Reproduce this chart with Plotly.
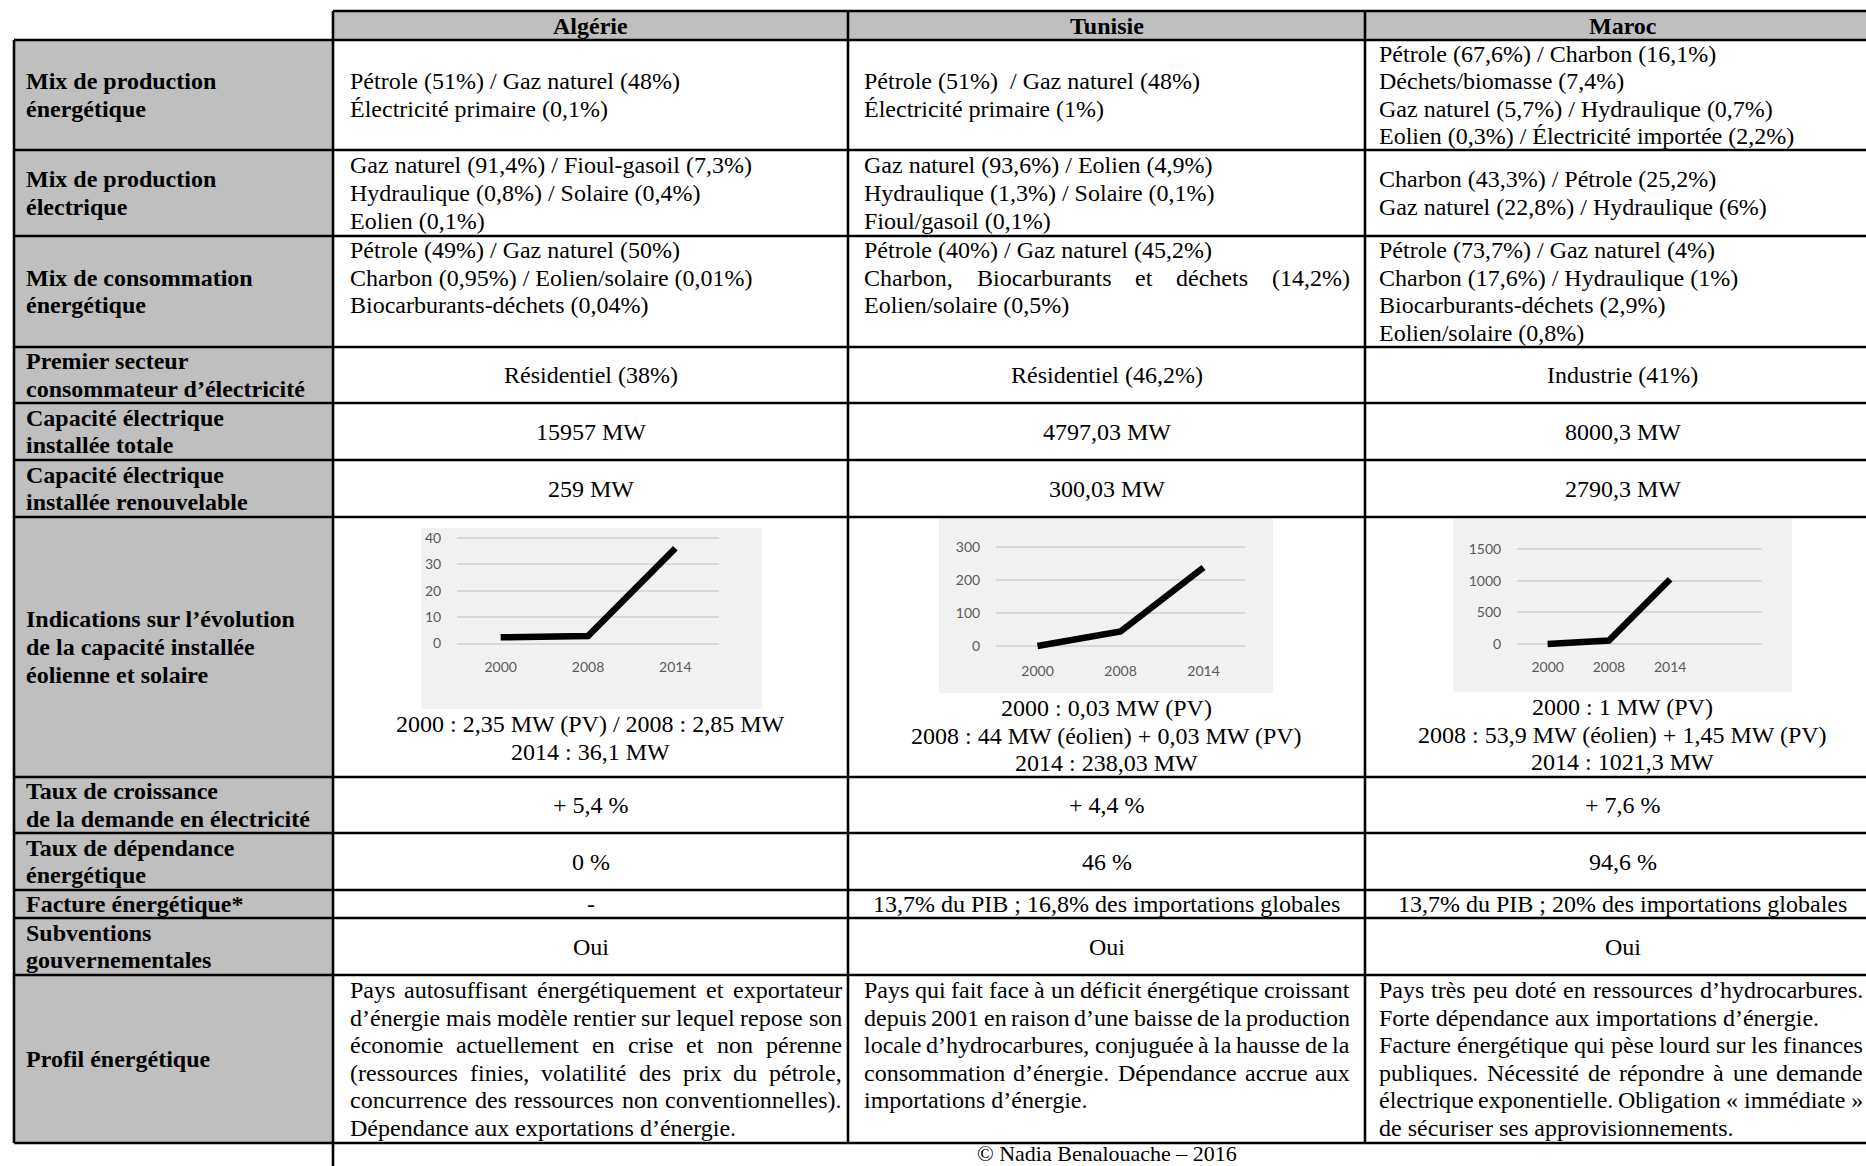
import plotly.graph_objects as go

# ------------------------------------------------------------------ data
countries = ["Algérie", "Tunisie", "Maroc"]

row_labels = [
    ["Mix de production", "énergétique"],
    ["Mix de production", "électrique"],
    ["Mix de consommation", "énergétique"],
    ["Premier secteur", "consommateur d’électricité"],
    ["Capacité électrique", "installée totale"],
    ["Capacité électrique", "installée renouvelable"],
    ["Indications sur l’évolution", "de la capacité installée", "éolienne et solaire"],
    ["Taux de croissance", "de la demande en électricité"],
    ["Taux de dépendance", "énergétique"],
    ["Facture énergétique*"],
    ["Subventions", "gouvernementales"],
    ["Profil énergétique"],
]

mix_prod_energetique = [
    ["Pétrole (51%) / Gaz naturel (48%)", "Électricité primaire (0,1%)"],
    ["Pétrole (51%)\u00a0 / Gaz naturel (48%)", "Électricité primaire (1%)"],
    ["Pétrole (67,6%) / Charbon (16,1%)", "Déchets/biomasse (7,4%)",
     "Gaz naturel (5,7%) / Hydraulique (0,7%)", "Eolien (0,3%) / Électricité importée (2,2%)"],
]
mix_prod_electrique = [
    ["Gaz naturel (91,4%) / Fioul-gasoil (7,3%)", "Hydraulique (0,8%) / Solaire (0,4%)", "Eolien (0,1%)"],
    ["Gaz naturel (93,6%) / Eolien (4,9%)", "Hydraulique (1,3%) / Solaire (0,1%)", "Fioul/gasoil (0,1%)"],
    ["Charbon (43,3%) / Pétrole (25,2%)", "Gaz naturel (22,8%) / Hydraulique (6%)"],
]
mix_consommation = [
    ["Pétrole (49%) / Gaz naturel (50%)", "Charbon (0,95%) / Eolien/solaire (0,01%)",
     "Biocarburants-déchets (0,04%)", ""],
    ["Pétrole (40%) / Gaz naturel (45,2%)", ("Charbon, Biocarburants et déchets (14,2%)", True),
     "Eolien/solaire (0,5%)", ""],
    ["Pétrole (73,7%) / Gaz naturel (4%)", "Charbon (17,6%) / Hydraulique (1%)",
     "Biocarburants-déchets (2,9%)", "Eolien/solaire (0,8%)"],
]
premier_secteur = ["Résidentiel (38%)", "Résidentiel (46,2%)", "Industrie (41%)"]
capacite_totale = ["15957 MW", "4797,03 MW", "8000,3 MW"]
capacite_renouvelable = ["259 MW", "300,03 MW", "2790,3 MW"]
croissance_demande = ["+ 5,4 %", "+ 4,4 %", "+ 7,6 %"]
dependance = ["0 %", "46 %", "94,6 %"]
facture = ["-", "13,7% du PIB ; 16,8% des importations globales",
           "13,7% du PIB ; 20% des importations globales"]
subventions = ["Oui", "Oui", "Oui"]
profil = [
    [("Pays autosuffisant énergétiquement et exportateur", True),
     ("d’énergie mais modèle rentier sur lequel repose son", True),
     ("économie actuellement en crise et non pérenne", True),
     ("(ressources finies, volatilité des prix du pétrole,", True),
     ("concurrence des ressources non conventionnelles).", True),
     "Dépendance aux exportations d’énergie."],
    [("Pays qui fait face à un déficit énergétique croissant", True),
     ("depuis 2001 en raison d’une baisse de la production", True),
     ("locale d’hydrocarbures, conjuguée à la hausse de la", True),
     ("consommation d’énergie. Dépendance accrue aux", True),
     "importations d’énergie.", ""],
    [("Pays très peu doté en ressources d’hydrocarbures.", True),
     "Forte dépendance aux importations d’énergie.",
     ("Facture énergétique qui pèse lourd sur les finances", True),
     ("publiques. Nécessité de répondre à une demande", True),
     ("électrique exponentielle. Obligation «\u00a0immédiate\u00a0»", True),
     "de sécuriser ses approvisionnements."],
]

years = ["2000", "2008", "2014"]
capacite_algerie = [2.35, 2.85, 36.1]
capacite_tunisie = [0.03, 44.03, 238.03]
capacite_maroc = [1, 55.35, 1021.3]
yticks_algerie = [0, 10, 20, 30, 40]
yticks_tunisie = [0, 100, 200, 300]
yticks_maroc = [0, 500, 1000, 1500]

captions = [
    ["2000 : 2,35 MW (PV) / 2008 : 2,85 MW", "2014 : 36,1 MW"],
    ["2000 : 0,03 MW (PV)", "2008 : 44 MW (éolien) + 0,03 MW (PV)", "2014 : 238,03 MW"],
    ["2000 : 1 MW (PV)", "2008 : 53,9 MW (éolien) + 1,45 MW (PV)", "2014 : 1021,3 MW"],
]
footer = "© Nadia Benalouache – 2016"

# ------------------------------------------------------------------ layout constants
W, H = 1866, 1166
OFF = 0          # page margin removed by post_script below
FONT = "Liberation Serif"
FS = 24
LH = 27.6
GRAY = "#BFBFBF"
BW = 2.6

TABLE_LEFT = 14
COL_X = [333, 848, 1365, 1880]
HEADER_TOP = 11
ROW_Y = [40, 150, 236, 347, 403, 460, 517, 777, 833, 890, 918, 975, 1143]
TEXT_L = [350, 864, 1379]
TEXT_R = [842, 1350, 1863]
LABEL_X = 26


def X(px):
    return (px - OFF) / W


def Y(py):
    return 1 - (py - OFF) / H


LOWER = dict(a=444, b=500, c=444, d=500, e=444, f=333, g=500, h=500, i=278, j=278, k=500, l=278,
             m=778, n=500, o=500, p=500, q=500, r=333, s=389, t=278, u=500, v=500, w=722, x=500,
             y=500, z=444)
UPPER = dict(A=722, B=667, C=667, D=722, E=611, F=556, G=722, H=722, I=333, J=389, K=722, L=611,
             M=889, N=722, O=722, P=556, Q=722, R=667, S=556, T=611, U=722, V=722, W=944, X=722,
             Y=722, Z=611)
OTHER = {' ': 250, '\u00a0': 250, '.': 250, ',': 250, ';': 278, ':': 278, '(': 333, ')': 333,
         '%': 833, '’': 333, "'": 180, '«': 500, '»': 500, '-': 333, '/': 278, '+': 564,
         '*': 500, '©': 760, '–': 500}
ACC = {'é': 'e', 'è': 'e', 'ê': 'e', 'ë': 'e', 'à': 'a', 'â': 'a', 'ô': 'o', 'î': 'i', 'ï': 'i',
       'ç': 'c', 'û': 'u', 'ù': 'u', 'É': 'E', 'È': 'E'}


def text_width(s, size=FS):
    tot = 0
    for ch in s:
        ch = ACC.get(ch, ch)
        if ch in LOWER:
            tot += LOWER[ch]
        elif ch in UPPER:
            tot += UPPER[ch]
        elif ch.isdigit():
            tot += 500
        else:
            tot += OTHER.get(ch, 500)
    return tot / 1000 * size


annotations = []


def put(x, y, s, anchor="left", size=FS, bold=False, family=FONT, color="black"):
    annotations.append(dict(
        x=X(x), y=Y(y), xref="paper", yref="paper", text=s, showarrow=False,
        xanchor=anchor, yanchor="middle", borderpad=0, borderwidth=0,
        font=dict(family=family, size=size, color=color, weight="bold" if bold else "normal")))


def put_line(xl, xr, y, line):
    if isinstance(line, tuple):
        s, just = line
    else:
        s, just = line, False
    if not s:
        return
    if not just:
        put(xl, y, s, "left")
        return
    words = s.split(" ")
    widths = [text_width(w) for w in words]
    gap = (xr - xl - sum(widths)) / (len(words) - 1)
    x = xl
    for i, (w, wd) in enumerate(zip(words, widths)):
        if i == len(words) - 1:
            put(xr, y, w, "right")
        else:
            put(x, y, w, "left")
        x += wd + gap


def line_centers(top, bottom, n):
    start = top + (bottom - top - n * LH) / 2
    return [start + (i + 0.5) * LH for i in range(n)]


shapes = []


def rect(x0, y0, x1, y1, fill):
    shapes.append(dict(type="rect", xref="paper", yref="paper", x0=X(x0), x1=X(x1),
                       y0=Y(y1), y1=Y(y0), fillcolor=fill, line=dict(width=0), layer="below"))


def hline(x0, x1, y):
    shapes.append(dict(type="line", xref="paper", yref="paper", x0=X(x0), x1=X(x1), y0=Y(y), y1=Y(y),
                       line=dict(color="black", width=BW), layer="above"))


def vline(x, y0, y1):
    shapes.append(dict(type="line", xref="paper", yref="paper", x0=X(x), x1=X(x), y0=Y(y0), y1=Y(y1),
                       line=dict(color="black", width=BW), layer="above"))


# ------------------------------------------------------------------ table background
rect(COL_X[0], HEADER_TOP, COL_X[-1], ROW_Y[0], GRAY)
rect(TABLE_LEFT, ROW_Y[0], COL_X[0], ROW_Y[-1], GRAY)

# ------------------------------------------------------------------ mini charts
chart_specs = [
    dict(vals=capacite_algerie, ticks=yticks_algerie, ncat=3, bg=(421, 528, 762, 709),
         plot=(457, 719), y0=643.5, ytop=538, xlab=665, col=0),
    dict(vals=capacite_tunisie, ticks=yticks_tunisie, ncat=3, bg=(939, 517, 1273, 693),
         plot=(996, 1245), y0=646, ytop=547, xlab=668.5, col=1),
    dict(vals=capacite_maroc, ticks=yticks_maroc, ncat=4, bg=(1453, 519, 1792, 692),
         plot=(1517, 1762), y0=644, ytop=549, xlab=665, col=2),
]

fig = go.Figure()
PAD = 8
TICKFONT = dict(family="Lato, Open Sans, sans-serif", size=14, color="#595959")
for k, c in enumerate(chart_specs, start=1):
    bx0, by0, bx1, by1 = c["bg"]
    rect(bx0, by0, bx1, by1, "#F2F2F2")
    sfx = "" if k == 1 else str(k)
    vmax = c["ticks"][-1]
    upp = vmax / (c["y0"] - c["ytop"])
    fig.add_trace(go.Scatter(x=years, y=c["vals"], mode="lines",
                             line=dict(color="black", width=6.5),
                             xaxis="x" + sfx, yaxis="y" + sfx, showlegend=False,
                             hoverinfo="skip"))
    axis_bottom = c["y0"] + PAD
    xlen = max(0, c["xlab"] - 8.5 - 2 - axis_bottom)
    fig.layout["xaxis" + sfx] = dict(
        domain=[X(c["plot"][0]), X(c["plot"][1])], anchor="y" + sfx, type="category",
        categoryorder="array", categoryarray=years, range=[-0.5, c["ncat"] - 0.5],
        showgrid=False, zeroline=False, showline=False, ticks="outside", ticklen=xlen,
        tickcolor="rgba(0,0,0,0)", tickfont=TICKFONT, fixedrange=True)
    fig.layout["yaxis" + sfx] = dict(
        domain=[Y(axis_bottom), Y(c["ytop"] - PAD)], anchor="x" + sfx,
        range=[-PAD * upp, vmax + PAD * upp], tickvals=c["ticks"], showgrid=True,
        gridcolor="#D9D9D9", gridwidth=1.6, zeroline=False, showline=False, ticks="outside",
        ticklen=12, tickcolor="rgba(0,0,0,0)", tickfont=TICKFONT, fixedrange=True)
    cx = (COL_X[c["col"]] + COL_X[c["col"] + 1]) / 2
    for i, s in enumerate(captions[c["col"]]):
        put(cx, by1 + 15 + i * LH, s, "center")

# ------------------------------------------------------------------ borders
hline(COL_X[0], COL_X[-1], HEADER_TOP)
for y in ROW_Y:
    hline(TABLE_LEFT, COL_X[-1], y)
vline(TABLE_LEFT, ROW_Y[0], ROW_Y[-1])
vline(COL_X[0], HEADER_TOP, H + 20)
for x in COL_X[1:-1]:
    vline(x, HEADER_TOP, ROW_Y[-1])

# ------------------------------------------------------------------ header
for j, name in enumerate(countries):
    put((COL_X[j] + COL_X[j + 1]) / 2, (HEADER_TOP + ROW_Y[0]) / 2 + 0.5, name, "center", bold=True)

# ------------------------------------------------------------------ row labels
for r, lines in enumerate(row_labels):
    for y, s in zip(line_centers(ROW_Y[r], ROW_Y[r + 1], len(lines)), lines):
        put(LABEL_X, y, s, "left", bold=True)

# ------------------------------------------------------------------ content
left_rows = {0: mix_prod_energetique, 1: mix_prod_electrique, 2: mix_consommation, 11: profil}
center_rows = {3: premier_secteur, 4: capacite_totale, 5: capacite_renouvelable,
               7: croissance_demande, 8: dependance, 9: facture, 10: subventions}

for r, cells in left_rows.items():
    for j, lines in enumerate(cells):
        for y, line in zip(line_centers(ROW_Y[r], ROW_Y[r + 1], len(lines)), lines):
            put_line(TEXT_L[j], TEXT_R[j], y, line)

for r, cells in center_rows.items():
    for j, s in enumerate(cells):
        put((COL_X[j] + COL_X[j + 1]) / 2, (ROW_Y[r] + ROW_Y[r + 1]) / 2, s, "center")

put((COL_X[0] + COL_X[-1]) / 2, 1153, footer, "center", size=22)

fig.update_layout(
    width=W, height=H, margin=dict(l=0, r=0, t=0, b=0),
    paper_bgcolor="white", plot_bgcolor="rgba(0,0,0,0)",
    showlegend=False, annotations=annotations, shapes=shapes,
)

fig.write_html(
    "out.html",
    config={"displayModeBar": False},
    post_script="document.body.style.margin='0';document.body.style.overflow='hidden';",
)
